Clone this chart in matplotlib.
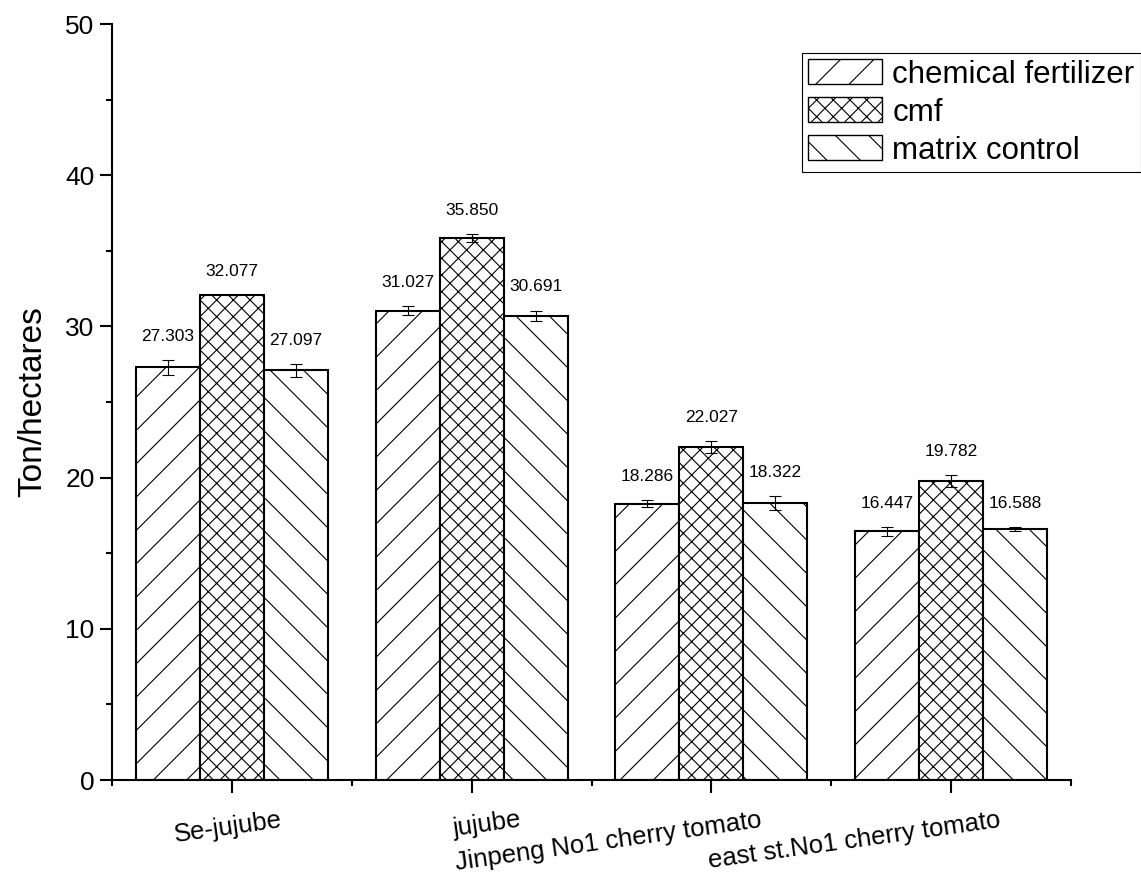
import numpy as np
import matplotlib
matplotlib.use("Agg")
import matplotlib.pyplot as plt
from matplotlib.transforms import ScaledTranslation
from matplotlib.ticker import MultipleLocator, FixedLocator

# ── Data ──────────────────────────────────────────────────────────────────────
categories = ["Se-jujube", "jujube", "Jinpeng No1 cherry tomato", "east st.No1 cherry tomato"]
series_names = ["chemical fertilizer", "cmf", "matrix control"]

chem_fert = [27.303, 31.027, 18.286, 16.447]
chem_err = [0.50, 0.30, 0.25, 0.30]
cmf = [32.077, 35.850, 22.027, 19.782]
cmf_err = [0.00, 0.27, 0.40, 0.40]
matrix_ctrl = [27.097, 30.691, 18.322, 16.588]
matrix_err = [0.43, 0.36, 0.45, 0.15]

# ── Style ─────────────────────────────────────────────────────────────────────
plt.rcParams['font.family'] = ['Liberation Sans', 'DejaVu Sans']
plt.rcParams['hatch.linewidth'] = 0.8
plt.rcParams['hatch.color'] = 'black'

fig = plt.figure(figsize=(11.41, 8.82), dpi=100, facecolor='white')
ax = fig.add_axes([112 / 1141, 1 - 780 / 882, (1071 - 112) / 1141, (780 - 24) / 882])

x = np.arange(len(categories))
w = 0.267
hatches = ['/', 'xx', '\\']
values = [chem_fert, cmf, matrix_ctrl]
errors = [chem_err, cmf_err, matrix_err]

for i, (vals, errs, hatch, name) in enumerate(zip(values, errors, hatches, series_names)):
    pos = x + (i - 1) * w
    ax.bar(pos, vals, width=w, color='white', edgecolor='black', linewidth=1.5,
           hatch=hatch, label=name, zorder=2)
    ax.errorbar(pos, vals, yerr=errs, fmt='none', ecolor='black', elinewidth=0.8,
                capsize=4.5, capthick=0.8, zorder=3)
    for p, v, e in zip(pos, vals, errs):
        ax.annotate(f'{v:.3f}', xy=(p, v + e), xytext=(0, 17), textcoords='offset points',
                    ha='center', va='center', fontsize=12.5)

# ── Axes ──────────────────────────────────────────────────────────────────────
ax.set_xlim(-0.5, len(categories) - 0.5)
ax.set_ylim(0, 50)
ax.spines['top'].set_visible(False)
ax.spines['right'].set_visible(False)
for s in ('left', 'bottom'):
    ax.spines[s].set_linewidth(1.5)

ax.yaxis.set_major_locator(MultipleLocator(10))
ax.yaxis.set_minor_locator(MultipleLocator(5))
ax.set_xticks(x)
ax.xaxis.set_minor_locator(FixedLocator(np.arange(-0.5, len(categories), 1.0)))
ax.tick_params(which='major', direction='out', length=9, width=1.5, labelsize=19)
ax.tick_params(which='minor', direction='out', length=4.5, width=1.5)
ax.tick_params(axis='x', which='major', pad=11)

ax.set_xticklabels(categories, rotation=8, ha='right', rotation_mode='anchor', fontsize=18.5)
offset = ScaledTranslation(48 / 100, 0, fig.dpi_scale_trans)
for lab in ax.get_xticklabels():
    lab.set_transform(lab.get_transform() + offset)

ax.set_ylabel('Ton/hectares', fontsize=24, labelpad=12)

# ── Legend ────────────────────────────────────────────────────────────────────
leg = ax.legend(loc='upper left', bbox_to_anchor=(802 / 1141, 1 - 53 / 882),
                bbox_transform=fig.transFigure, fontsize=22.5, frameon=True,
                fancybox=False, edgecolor='black', framealpha=1,
                handlelength=2.35, handleheight=0.85, handletextpad=0.34,
                labelspacing=0.25, borderpad=0.2, borderaxespad=0)
leg.get_frame().set_linewidth(0.8)
for patch in leg.get_patches():
    patch.set_linewidth(1.0)

fig.savefig('out.png', dpi=100, facecolor='white')
